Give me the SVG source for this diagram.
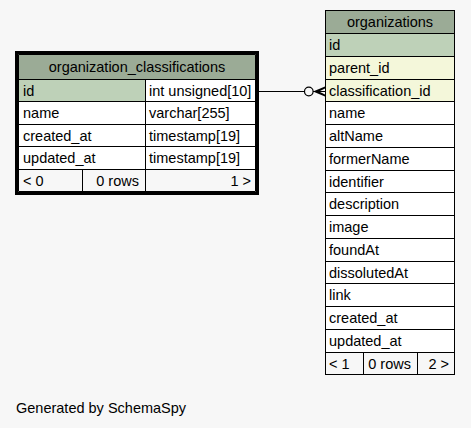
<svg xmlns="http://www.w3.org/2000/svg" width="471" height="428" viewBox="0 0 471 428">
<style>
text{font-family:"Liberation Sans",Arial,sans-serif;font-size:14.5px;fill:#000}
.hdr{fill:#9bab96}
.pk{fill:#bed1b8}
.fk{fill:#f4f7da}
.cell{fill:#ffffff}
.foot{fill:#f7f7f7}
.ln{stroke:#000;stroke-width:1;fill:none}
.mid{text-anchor:middle}
.end{text-anchor:end}
</style>
<rect width="471" height="428" fill="#f7f7f7"/>

<g id="organization_classifications">
<rect class="hdr" x="18" y="54" width="238" height="25.5"/>
<rect class="pk" x="18" y="79.5" width="127.5" height="22"/>
<rect class="cell" x="145.5" y="79.5" width="110.5" height="22"/>
<rect class="cell" x="18" y="101.5" width="238" height="68"/>
<rect class="foot" x="18" y="169.5" width="238" height="22.5"/>
<path class="ln" d="M18.5 79.5H255.5M18.5 101.5H255.5M18.5 124.5H255.5M18.5 146.5H255.5M18.5 169.5H255.5M145.5 79.5V192M82.5 169.5V192M18.5 54.5H255.5V191.5H18.5Z"/>
<rect x="16.5" y="52.5" width="241" height="141" fill="none" stroke="#000" stroke-width="3"/>
<text class="mid" x="137" y="71.5">organization_classifications</text>
<text x="23" y="95.5">id</text>
<text x="149" y="95.5">int unsigned[10]</text>
<text x="23" y="118">name</text>
<text x="149" y="118">varchar[255]</text>
<text x="23" y="140.5">created_at</text>
<text x="149" y="140.5">timestamp[19]</text>
<text x="23" y="163">updated_at</text>
<text x="149" y="163">timestamp[19]</text>
<text x="23" y="185.5">&lt; 0</text>
<text class="end" x="139" y="185.5">0 rows</text>
<text class="end" x="251" y="185.5">1 &gt;</text>
</g>

<g id="organizations">
<rect class="hdr" x="325.5" y="10.5" width="129" height="23"/>
<rect class="pk" x="325.5" y="33.5" width="129" height="23"/>
<rect class="fk" x="325.5" y="56.5" width="129" height="45"/>
<rect class="cell" x="325.5" y="101.5" width="129" height="251"/>
<rect class="foot" x="325.5" y="352.5" width="129" height="22"/>
<path class="ln" d="M325.5 33.5H454.5M325.5 56.5H454.5M325.5 79.5H454.5M325.5 101.5H454.5M325.5 124.5H454.5M325.5 147.5H454.5M325.5 170.5H454.5M325.5 192.5H454.5M325.5 215.5H454.5M325.5 238.5H454.5M325.5 261.5H454.5M325.5 283.5H454.5M325.5 306.5H454.5M325.5 329.5H454.5M325.5 352.5H454.5M363.5 352.5V374.5M417.5 352.5V374.5"/>
<rect class="ln" x="325.5" y="10.5" width="129" height="364"/>
<text class="mid" x="390" y="27">organizations</text>
<text x="329" y="50">id</text>
<text x="329" y="73">parent_id</text>
<text x="329" y="95.5">classification_id</text>
<text x="329" y="118">name</text>
<text x="329" y="141">altName</text>
<text x="329" y="164">formerName</text>
<text x="329" y="186.5">identifier</text>
<text x="329" y="209">description</text>
<text x="329" y="232">image</text>
<text x="329" y="255">foundAt</text>
<text x="329" y="277.5">dissolutedAt</text>
<text x="329" y="300">link</text>
<text x="329" y="323">created_at</text>
<text x="329" y="346">updated_at</text>
<text x="329" y="368.5">&lt; 1</text>
<text class="end" x="411" y="368.5">0 rows</text>
<text class="end" x="449" y="368.5">2 &gt;</text>
</g>

<g id="connectors">
<path class="ln" d="M259 91.5H304.3"/>
<circle cx="308.8" cy="91.5" r="4.3" fill="#f7f7f7" stroke="#000" stroke-width="1.2"/>
<path d="M313 91.5L325 86.5L325 88.5L319 91.5L325 94.5L325 96.5Z" fill="#000"/>
<path class="ln" d="M313 91.5H325"/>
</g>

<text x="16" y="413">Generated by SchemaSpy</text>
</svg>
